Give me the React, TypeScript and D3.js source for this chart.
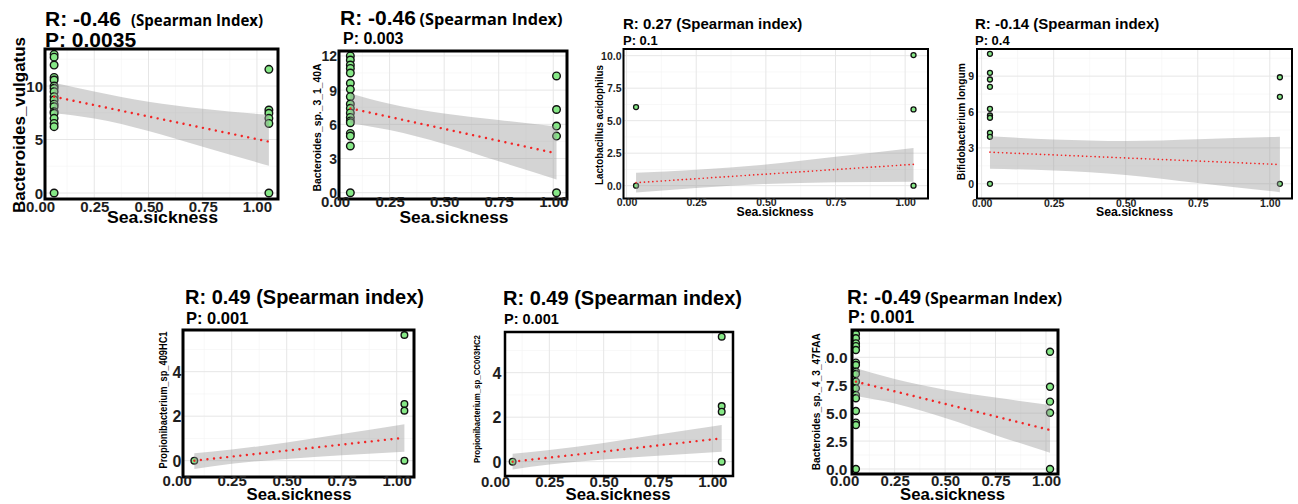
import React, { useRef, useEffect } from 'react';
import * as d3 from 'd3';

const W = 1298;
const H = 504;
const SANS = '"Liberation Sans", Arial, sans-serif';
const OPEN = '"Open Sans", "Liberation Sans", sans-serif';

// shared x ticks (Sea.sickness)
const xTicks = [0, 0.25, 0.5, 0.75, 1];

// Panel 1: Bacteroides_vulgatus
const vulgatusX = [0.065, 1.055];
const vulgatusLow = [12.96, 12.7, 11.96, 10.8, 10.56, 10.0, 9.78, 9.47, 9.0, 8.7, 8.3, 8.07, 7.6, 7.45, 6.98, 6.5, 6.2, 0];
const vulgatusHigh = [11.56, 7.76, 7.45, 6.98, 6.5, 0];
const vulgatusFit = [9.0, 4.8];
const vulgatusBandX = [0.065, 0.25, 0.5, 0.75, 1.055];
const vulgatusUpper = [10.3, 9.48, 8.52, 7.87, 7.3];
const vulgatusLower = [7.45, 6.96, 5.8, 4.33, 2.55];

// Panel 2: Bacteroides_sp._3_1_40A
const sp3140X = [0.07, 1.015];
const sp3140Low = [12.0, 11.64, 11.2, 10.9, 10.5, 9.6, 9.07, 8.42, 7.78, 7.4, 7.0, 6.6, 6.3, 6.14, 5.2, 4.97, 4.1, 0];
const sp3140High = [10.24, 7.3, 5.85, 4.97, 0];
const sp3140Fit = [7.4, 3.45];
const sp3140BandX = [0.07, 0.25, 0.5, 0.75, 1.015];
const sp3140Upper = [8.7, 7.8, 6.94, 6.38, 5.8];
const sp3140Lower = [6.1, 5.5, 4.28, 2.76, 1.17];

// Panel 3: Lactobacillus acidophilus
const lactoX = [0.034, 1.03];
const lactoLow = [6.05, 0];
const lactoHigh = [10.05, 5.87, 0];
const lactoFit = [0.23, 1.64];
const lactoBandX = [0.034, 0.25, 0.5, 0.75, 1.03];
const lactoUpper = [1.0, 1.23, 1.63, 2.22, 2.9];
const lactoLower = [-0.53, -0.17, 0.13, 0.26, 0.31];

// Panel 4: Bifidobacterium longum
const bifidoX = [0.029, 1.035];
const bifidoLow = [10.87, 9.28, 8.72, 8.11, 6.27, 5.71, 5.52, 4.26, 3.93, 0];
const bifidoHigh = [8.91, 7.27, 0];
const bifidoFit = [2.64, 1.61];
const bifidoBandX = [0.029, 0.25, 0.5, 0.75, 1.035];
const bifidoUpper = [3.98, 3.71, 3.58, 3.73, 3.93];
const bifidoLower = [1.25, 1.11, 0.74, 0.07, -0.7];

// Panel 5: Propionibacterium_sp_409HC1
const prop409X = [0.08, 1.035];
const prop409Low = [0];
const prop409High = [5.65, 2.55, 2.25, 0];
const prop409Fit = [0, 1.03];
const prop409BandX = [0.08, 0.25, 0.5, 0.75, 1.035];
const prop409Upper = [0.33, 0.5, 0.82, 1.2, 1.64];
const prop409Lower = [-0.37, -0.14, 0.08, 0.24, 0.4];

// Panel 6: Propionibacterium_sp_CC003HC2
const propCCX = [0.081, 1.043];
const propCCLow = [0];
const propCCHigh = [5.62, 2.5, 2.25, 0];
const propCCFit = [0, 1.05];
const propCCBandX = [0.081, 0.25, 0.5, 0.75, 1.043];
const propCCUpper = [0.36, 0.52, 0.84, 1.22, 1.65];
const propCCLower = [-0.35, -0.13, 0.1, 0.27, 0.45];

// Panel 7: Bacteroides_sp._4_3_47FAA
const sp4347X = [0.058, 1.02];
const sp4347Low = [12.09, 11.7, 11.25, 11.0, 10.65, 9.52, 9.31, 8.71, 8.5, 7.82, 7.22, 6.62, 6.33, 5.19, 4.15, 3.94, 0];
const sp4347High = [10.5, 7.37, 6.03, 5.04, 0];
const sp4347Fit = [7.82, 3.49];
const sp4347BandX = [0.058, 0.25, 0.5, 0.75, 1.02];
const sp4347Upper = [9.01, 8.06, 7.1, 6.39, 5.73];
const sp4347Lower = [6.53, 5.86, 4.56, 3.03, 1.46];

const f1 = d3.format('.1f');
const f0 = d3.format('d');

const panels = [
  {
    box: [45, 49, 278, 199], xDomain: [0.023, 1.097], yDomain: [-0.56, 13.46],
    gx: vulgatusX, low: vulgatusLow, high: vulgatusHigh, fit: vulgatusFit,
    bandX: vulgatusBandX, upper: vulgatusUpper, lower: vulgatusLower,
    yTicks: [0, 5, 10], yFmt: f0, yTickRight: 43, yTickSize: 15,
    xTickBase: 212, xTickSize: 15, r: 3.8, ptStroke: 1.4, border: 3, dash: '0.01 6.6', lineW: 2.4,
    yTitle: 'Bacteroides_vulgatus', yTitleX: 25, yTitleY: 125, yTitleSize: 17, yTitleLen: 176,
    xTitleX: 162.5, xTitleY: 222.5, xTitleSize: 16, xTitleLen: 111,
    title: [{ t: 'R: -0.46', x: 45, size: 21, font: SANS }, { t: '(Spearman Index)', x: 131, size: 15.2, font: OPEN, len: 132 }],
    titleY: 26, p: 'P: 0.0035', pX: 45, pY: 47, pSize: 21,
  },
  {
    box: [339, 51, 567, 199], xDomain: [0.018, 1.063], yDomain: [-0.55, 12.43],
    gx: sp3140X, low: sp3140Low, high: sp3140High, fit: sp3140Fit,
    bandX: sp3140BandX, upper: sp3140Upper, lower: sp3140Lower,
    yTicks: [0, 3, 6, 9, 12], yFmt: f0, yTickRight: 337, yTickSize: 14,
    xTickBase: 207, xTickSize: 15, r: 3.8, ptStroke: 1.4, border: 3, dash: '0.01 6.6', lineW: 2.4,
    yTitle: 'Bacteroides_sp._3_1_40A', yTitleX: 320.5, yTitleY: 127.5, yTitleSize: 11, yTitleLen: 128,
    xTitleX: 454, xTitleY: 222.5, xTitleSize: 16, xTitleLen: 109,
    title: [{ t: 'R: -0.46', x: 340, size: 21, font: SANS }, { t: '(Spearman Index)', x: 419.5, size: 16.3, font: OPEN, len: 143 }],
    titleY: 25, p: 'P: 0.003', pX: 343, pY: 44, pSize: 16,
  },
  {
    box: [623.5, 49, 928, 198.5], xDomain: [-0.011, 1.082], yDomain: [-0.985, 10.515],
    gx: lactoX, low: lactoLow, high: lactoHigh, fit: lactoFit,
    bandX: lactoBandX, upper: lactoUpper, lower: lactoLower,
    yTicks: [0, 2.5, 5, 7.5, 10], yFmt: f1, yTickRight: 621.5, yTickSize: 10.5,
    xTickBase: 206, xTickSize: 10.5, r: 2.5, ptStroke: 1.3, border: 2, dash: '0.01 4.2', lineW: 1.7,
    yTitle: 'Lactobacillus acidophilus', yTitleX: 603, yTitleY: 125, yTitleSize: 10.5, yTitleLen: 120,
    xTitleX: 775, xTitleY: 216, xTitleSize: 12.5, xTitleLen: 77,
    title: [{ t: 'R: 0.27 (Spearman index)', x: 623, size: 15, font: SANS }],
    titleY: 29, p: 'P: 0.1', pX: 623, pY: 44.5, pSize: 13,
  },
  {
    box: [977, 49, 1292, 198.5], xDomain: [-0.016, 1.077], yDomain: [-1.23, 11.27],
    gx: bifidoX, low: bifidoLow, high: bifidoHigh, fit: bifidoFit,
    bandX: bifidoBandX, upper: bifidoUpper, lower: bifidoLower,
    yTicks: [0, 3, 6, 9], yFmt: f0, yTickRight: 974, yTickSize: 10.5,
    xTickBase: 206.5, xTickSize: 10.5, r: 2.5, ptStroke: 1.3, border: 2, dash: '0.01 4.2', lineW: 1.7,
    yTitle: 'Bifidobacterium longum', yTitleX: 965, yTitleY: 121.7, yTitleSize: 10.5, yTitleLen: 117,
    xTitleX: 1134.5, xTitleY: 216, xTitleSize: 12.5, xTitleLen: 77,
    title: [{ t: 'R: -0.14 (Spearman index)', x: 975, size: 15, font: SANS }],
    titleY: 29, p: 'P: 0.4', pX: 975, pY: 44.5, pSize: 13,
  },
  {
    box: [183, 330, 414, 477], xDomain: [0.0286, 1.0786], yDomain: [-0.733, 5.874],
    gx: prop409X, low: prop409Low, high: prop409High, fit: prop409Fit,
    bandX: prop409BandX, upper: prop409Upper, lower: prop409Lower,
    yTicks: [0, 2, 4], yFmt: f0, yTickRight: 181.5, yTickSize: 16,
    xTickBase: 486, xTickSize: 15, r: 3.3, ptStroke: 1.4, border: 3, dash: '0.01 6.6', lineW: 2.4,
    yTitle: 'Propionibacterium_sp_409HC1', yTitleX: 167, yTitleY: 400, yTitleSize: 10, yTitleLen: 137,
    xTitleX: 299, xTitleY: 499.5, xTitleSize: 16, xTitleLen: 105,
    title: [{ t: 'R: 0.49 (Spearman index)', x: 185, size: 20, font: SANS }],
    titleY: 303.5, p: 'P: 0.001', pX: 186, pY: 324, pSize: 16.5,
  },
  {
    box: [505, 332, 733, 476], xDomain: [0.046, 1.095], yDomain: [-0.643, 5.829],
    gx: propCCX, low: propCCLow, high: propCCHigh, fit: propCCFit,
    bandX: propCCBandX, upper: propCCUpper, lower: propCCLower,
    yTicks: [0, 2, 4], yFmt: f0, yTickRight: 501.5, yTickSize: 16,
    xTickBase: 487, xTickSize: 15, r: 3.3, ptStroke: 1.4, border: 2.5, dash: '0.01 6.6', lineW: 2.4,
    yTitle: 'Propionibacterium_sp_CC003HC2', yTitleX: 479.5, yTitleY: 399, yTitleSize: 8.5, yTitleLen: 128,
    xTitleX: 618, xTitleY: 500, xTitleSize: 16, xTitleLen: 105,
    title: [{ t: 'R: 0.49 (Spearman index)', x: 503, size: 20, font: SANS }],
    titleY: 305, p: 'P: 0.001', pX: 504, pY: 324, pSize: 14.5,
  },
  {
    box: [852, 330, 1058, 474], xDomain: [0.0387, 1.0595], yDomain: [-0.448, 12.444],
    gx: sp4347X, low: sp4347Low, high: sp4347High, fit: sp4347Fit,
    bandX: sp4347BandX, upper: sp4347Upper, lower: sp4347Lower,
    yTicks: [0, 2.5, 5, 7.5, 10], yFmt: f1, yTickRight: 847.5, yTickSize: 15.5, clipLeft: 825,
    xTickBase: 486, xTickSize: 15, r: 3.5, ptStroke: 1.4, border: 3, dash: '0.01 6.6', lineW: 2.4,
    yTitle: 'Bacteroides_sp._4_3_47FAA', yTitleX: 820, yTitleY: 401.7, yTitleSize: 11, yTitleLen: 137,
    xTitleX: 952.5, xTitleY: 499.5, xTitleSize: 16, xTitleLen: 105,
    title: [{ t: 'R: -0.49', x: 847, size: 20.5, font: SANS }, { t: '(Spearman Index)', x: 925, size: 15.8, font: OPEN, len: 137 }],
    titleY: 303.5, p: 'P: 0.001', pX: 848, pY: 323, pSize: 17.5,
  },
];

const minorOf = (ticks, domain) => {
  const step = ticks[1] - ticks[0];
  return d3.range(ticks[0] - step / 2, ticks[ticks.length - 1] + step, step)
    .filter(v => v > domain[0] && v < domain[1]);
};

const drawPanel = (svg, p, i) => {
  const [L, T, R, B] = p.box;
  const x = d3.scaleLinear().domain(p.xDomain).range([L, R]);
  const y = d3.scaleLinear().domain(p.yDomain).range([B, T]);
  const g = svg.append('g');

  // grid
  const inX = v => v > p.xDomain[0] && v < p.xDomain[1];
  const inY = v => v > p.yDomain[0] && v < p.yDomain[1];
  g.selectAll('.gxm').data(minorOf(xTicks, p.xDomain)).enter().append('line')
    .attr('x1', d => x(d)).attr('x2', d => x(d)).attr('y1', T).attr('y2', B)
    .attr('stroke', '#f3f3f3').attr('stroke-width', 0.6);
  g.selectAll('.gym').data(minorOf(p.yTicks, p.yDomain)).enter().append('line')
    .attr('x1', L).attr('x2', R).attr('y1', d => y(d)).attr('y2', d => y(d))
    .attr('stroke', '#f3f3f3').attr('stroke-width', 0.6);
  g.selectAll('.gxM').data(xTicks.filter(inX)).enter().append('line')
    .attr('x1', d => x(d)).attr('x2', d => x(d)).attr('y1', T).attr('y2', B)
    .attr('stroke', '#e6e6e6').attr('stroke-width', 1);
  g.selectAll('.gyM').data(p.yTicks.filter(inY)).enter().append('line')
    .attr('x1', L).attr('x2', R).attr('y1', d => y(d)).attr('y2', d => y(d))
    .attr('stroke', '#e6e6e6').attr('stroke-width', 1);

  // points
  const pts = [
    ...p.low.map(v => ({ sx: p.gx[0], v })),
    ...p.high.map(v => ({ sx: p.gx[1], v })),
  ];
  g.selectAll('circle').data(pts).enter().append('circle')
    .attr('cx', d => x(d.sx)).attr('cy', d => y(d.v)).attr('r', p.r)
    .attr('fill', '#86e886').attr('stroke', '#111').attr('stroke-width', p.ptStroke);

  // confidence band
  const band = p.bandX.map((bx, k) => ({ bx, lo: p.lower[k], hi: p.upper[k] }));
  g.append('path').datum(band)
    .attr('d', d3.area().x(d => x(d.bx)).y0(d => y(d.lo)).y1(d => y(d.hi)).curve(d3.curveMonotoneX))
    .attr('fill', '#999999').attr('fill-opacity', 0.42);

  // regression line (dotted)
  g.append('path').datum(p.gx.map((gx, k) => [gx, p.fit[k]]))
    .attr('d', d3.line().x(d => x(d[0])).y(d => y(d[1])))
    .attr('fill', 'none').attr('stroke', '#f22525').attr('stroke-width', p.lineW)
    .attr('stroke-dasharray', p.dash).attr('stroke-linecap', 'round');

  // border
  g.append('rect').attr('x', L).attr('y', T).attr('width', R - L).attr('height', B - T)
    .attr('fill', 'none').attr('stroke', '#000').attr('stroke-width', p.border);

  // x axis
  const xa = g.append('g').attr('transform', `translate(0,${p.xTickBase})`)
    .call(d3.axisBottom(x).tickValues(xTicks).tickFormat(d3.format('.2f')).tickSize(0));
  xa.select('.domain').remove();
  xa.selectAll('text').attr('y', 0).attr('dy', 0)
    .attr('font-size', p.xTickSize).attr('font-weight', 'bold').attr('font-family', SANS).attr('fill', '#1e1e1e');

  // y axis
  const yHolder = g.append('g');
  if (p.clipLeft) {
    const id = `yclip${i}`;
    svg.append('clipPath').attr('id', id).append('rect')
      .attr('x', p.clipLeft).attr('y', T - 20).attr('width', p.yTickRight + 10 - p.clipLeft).attr('height', B - T + 40);
    yHolder.attr('clip-path', `url(#${id})`);
  }
  const ya = yHolder.append('g').attr('transform', `translate(${p.yTickRight},0)`)
    .call(d3.axisLeft(y).tickValues(p.yTicks).tickFormat(p.yFmt).tickSize(0).tickPadding(0));
  ya.select('.domain').remove();
  ya.selectAll('text').attr('dy', '0.36em')
    .attr('font-size', p.yTickSize).attr('font-weight', 'bold').attr('font-family', SANS).attr('fill', '#1e1e1e');

  // axis titles
  g.append('text')
    .attr('transform', `translate(${p.yTitleX},${p.yTitleY}) rotate(-90)`)
    .attr('text-anchor', 'middle').attr('font-family', SANS).attr('font-weight', 'bold')
    .attr('font-size', p.yTitleSize).attr('textLength', p.yTitleLen).attr('lengthAdjust', 'spacingAndGlyphs')
    .attr('fill', '#000').text(p.yTitle);
  g.append('text')
    .attr('x', p.xTitleX).attr('y', p.xTitleY)
    .attr('text-anchor', 'middle').attr('font-family', SANS).attr('font-weight', 'bold')
    .attr('font-size', p.xTitleSize).attr('textLength', p.xTitleLen).attr('lengthAdjust', 'spacingAndGlyphs')
    .attr('fill', '#000').text('Sea.sickness');

  // R / P headings
  p.title.forEach(part => {
    const t = g.append('text').attr('x', part.x).attr('y', p.titleY)
      .attr('font-weight', 'bold').attr('fill', '#000')
      .attr('font-family', part.font).attr('font-size', part.size).text(part.t);
    if (part.len) t.attr('textLength', part.len).attr('lengthAdjust', 'spacingAndGlyphs');
  });
  g.append('text').attr('x', p.pX).attr('y', p.pY)
    .attr('font-family', SANS).attr('font-weight', 'bold').attr('font-size', p.pSize)
    .attr('fill', '#000').text(p.p);
};

const App = () => {
  const svgRef = useRef(null);

  useEffect(() => {
    const svg = d3.select(svgRef.current);
    svg.selectAll('*').remove();
    svg.append('rect').attr('width', W).attr('height', H).attr('fill', '#fff');
    panels.forEach((p, i) => drawPanel(svg, p, i));
  }, []);

  return (
    <svg
      ref={svgRef}
      width={W}
      height={H}
      style={{ position: 'absolute', left: 0, top: 0, display: 'block' }}
    />
  );
};

export default App;
